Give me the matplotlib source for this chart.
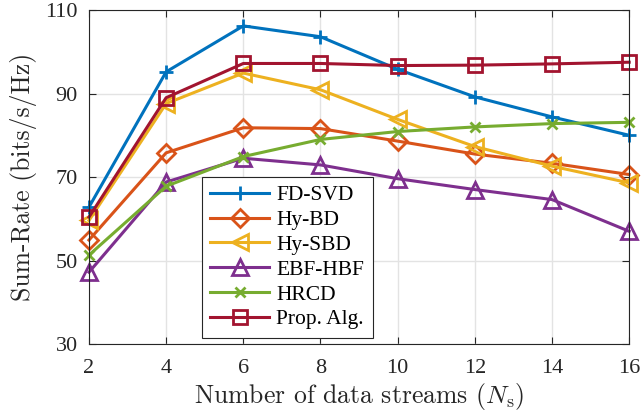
import matplotlib
matplotlib.use("Agg")
import matplotlib.pyplot as plt

plt.rcParams["mathtext.fontset"] = "cm"
plt.rcParams["axes.unicode_minus"] = False

x = [2, 4, 6, 8, 10, 12, 14, 16]
fd_svd = [62.8, 95.2, 106.2, 103.6, 95.8, 89.2, 84.4, 80.0]
hy_bd = [54.9, 75.8, 81.8, 81.6, 78.6, 75.5, 73.3, 70.6]
hy_sbd = [59.6, 87.6, 94.9, 90.9, 83.8, 77.3, 72.6, 68.6]
ebf_hbf = [47.2, 68.8, 74.5, 72.9, 69.6, 67.0, 64.6, 57.0]
hrcd = [51.3, 67.8, 74.9, 79.0, 80.9, 82.0, 82.8, 83.1]
prop = [60.4, 89.0, 97.2, 97.2, 96.7, 96.8, 97.1, 97.5]

labels = ["FD-SVD", "Hy-BD", "Hy-SBD", "EBF-HBF", "HRCD", "Prop. Alg."]
series = [fd_svd, hy_bd, hy_sbd, ebf_hbf, hrcd, prop]
colors = ["#0072BD", "#D95319", "#EDB120", "#7E2F8E", "#77AC30", "#A2142F"]
markers = ["+", "D", "<", "^", "x", "s"]
msizes = [10.5, 8.8, 11, 11, 7.5, 9.5]

xticks = [2, 4, 6, 8, 10, 12, 14, 16]
yticks = [30, 50, 70, 90, 110]

fig = plt.figure(figsize=(6.42, 4.18), dpi=100)
ax = fig.add_axes([0.1386, 0.177, 0.8414, 0.799])

for y, lab, c, m, ms in zip(series, labels, colors, markers, msizes):
    ax.plot(x, y, color=c, lw=2.2, marker=m, ms=ms, mfc="none",
            mec=c, mew=2.0, label=lab, clip_on=False)

ax.set_xlim(2, 16)
ax.set_ylim(30, 110)
ax.set_xticks(xticks)
ax.set_yticks(yticks)
ax.grid(True, color="#e3e3e3", lw=1.0)
ax.set_axisbelow(True)
for s in ax.spines.values():
    s.set_color("#262626")
    s.set_linewidth(0.8)
ax.tick_params(direction="in", top=True, right=True, length=5,
               color="#262626", labelsize=16, labelcolor="#262626")
ax.tick_params(axis="x", pad=11)
ax.tick_params(axis="y", pad=8)
for t in ax.get_xticklabels() + ax.get_yticklabels():
    t.set_fontfamily("Liberation Serif")

ax.set_xlabel(r"Number of data streams ($N_\mathrm{s}$)", fontfamily="cmr10",
              fontsize=18.5, labelpad=2, color="#262626")
ax.set_ylabel("Sum-Rate (bits/s/Hz)", fontfamily="cmr10", fontsize=18.5,
              labelpad=6, color="#262626")

leg = ax.legend(loc="lower left", bbox_to_anchor=(0.209, 0.018),
                prop={"family": "Liberation Serif", "size": 15.5},
                fancybox=False, framealpha=1, edgecolor="#262626",
                handlelength=2.7, borderpad=0.4, labelspacing=0.22,
                handletextpad=0.35, borderaxespad=0)
leg.get_frame().set_linewidth(0.8)

fig.savefig("out.png", dpi=100)
